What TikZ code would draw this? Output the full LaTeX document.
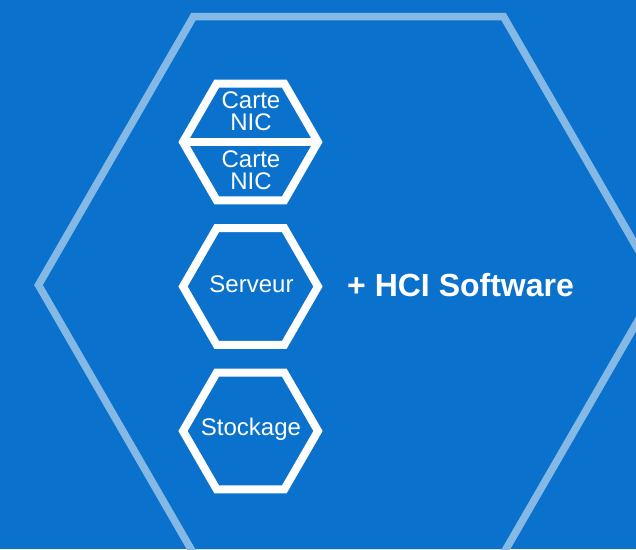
\documentclass[tikz,border=0pt]{standalone}
\usepackage{fontspec}
\setmainfont{Liberation Sans}
\definecolor{fondbleu}{HTML}{0A72CC}
\definecolor{bleuclair}{HTML}{84B8E5}

\begin{document}
\begin{tikzpicture}[x=1pt, y=-1pt,
    cadre/.style={draw=bleuclair, line width=7.5pt},
    hexa/.style={draw=white, line width=8pt},
    etiq/.style={text=white, font=\fontsize{24}{22}\selectfont, align=center, inner sep=0pt},
    titre/.style={text=white, font=\fontsize{32}{36}\selectfont\bfseries, inner sep=0pt}]

  % 背景
  \fill[fondbleu] (0, 0) rectangle (636, 549);
  \useasboundingbox (0, 0) rectangle (636, 549);
  \clip (0, 0) rectangle (636, 549);

  % 大六边形
  \def\R{310}
  \draw[cadre] (348.5, 285) +(0:\R) -- +(60:\R) -- +(120:\R) -- +(180:\R) -- +(240:\R) -- +(300:\R) -- cycle;

  % 小六边形
  \def\r{67.5}
  \foreach \y in {142, 286.5, 431}
    \draw[hexa] (250.5, \y) +(0:\r) -- +(60:\r) -- +(120:\r) -- +(180:\r) -- +(240:\r) -- +(300:\r) -- cycle;
  \draw[hexa] (250.5, 142) +(180:\r) -- +(0:\r);

  % 文字
  \node[etiq] (nic1) at (251, 111) {Carte\\NIC};
  \node[etiq] (nic2) at (251, 170.5) {Carte\\NIC};
  \node[etiq, anchor=base] (serveur) at (251.5, 292) {Serveur};
  \node[etiq, anchor=base] (stockage) at (251, 435) {Stockage};
  \node[titre, anchor=base west] (hci) at (347, 296) {+ HCI Software};

\end{tikzpicture}
\end{document}
